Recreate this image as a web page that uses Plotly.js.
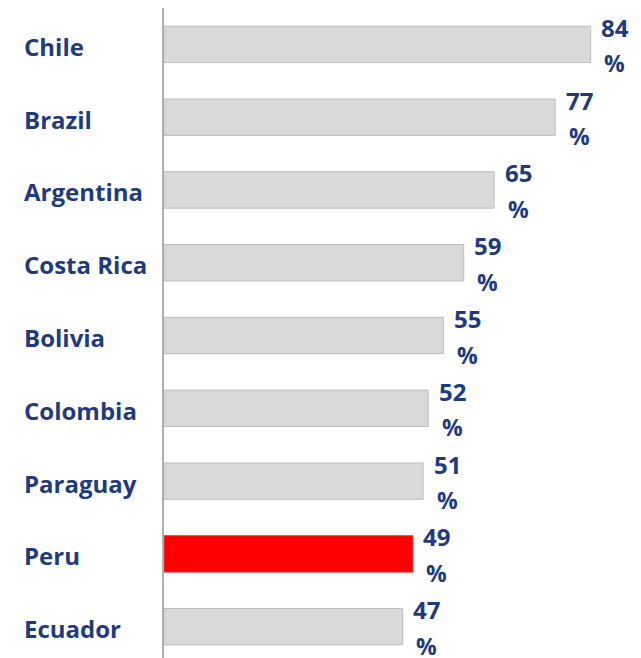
<!DOCTYPE html>
<html>
<head>
<meta charset="utf-8">
<script src="https://cdn.plot.ly/plotly-3.0.1.min.js"></script>
<style>html,body{margin:0;padding:0;background:#fff;}#chart{width:641px;height:658px;}</style>
</head>
<body>
<div id="chart"></div>
<script>
const countries = ['Chile','Brazil','Argentina','Costa Rica','Bolivia','Colombia','Paraguay','Peru','Ecuador'];
const values = [84,77,65,59,55,52,51,49,47];
const highlight = 'Peru';
const unitLabel = '%';

const navy = '#1f3b80';
const barColors = countries.map(c => c === highlight ? '#ff0000' : '#d9d9d9');
const lineColors = countries.map(c => c === highlight ? '#e83030' : '#bdbdbd');

const trace = {
  type: 'bar',
  orientation: 'h',
  x: values,
  y: countries,
  marker: {color: barColors, line: {color: lineColors, width: 1}},
  hoverinfo: 'skip'
};

const annotations = [];
countries.forEach((c, i) => {
  annotations.push({
    x: values[i], y: c, xref: 'x', yref: 'y',
    text: String(values[i]), showarrow: false,
    xanchor: 'center', yanchor: 'middle', xshift: 24, yshift: 17,
    font: {family: 'Open Sans', size: 24, color: navy, weight: 'bold'}
  });
  annotations.push({
    x: values[i], y: c, xref: 'x', yref: 'y',
    text: unitLabel, showarrow: false,
    xanchor: 'center', yanchor: 'middle', xshift: 24, yshift: -19,
    font: {family: 'Open Sans', size: 23, color: navy, weight: 'bold'}
  });
  annotations.push({
    x: -142/477, y: c, xref: 'paper', yref: 'y',
    text: c, showarrow: false,
    xanchor: 'left', yanchor: 'middle', yshift: -2,
    font: {family: 'Open Sans', size: 24, color: navy, weight: 'bold'}
  });
});

const layout = {
  width: 641, height: 658,
  margin: {l: 164, r: 0, t: 8, b: 0},
  paper_bgcolor: '#ffffff', plot_bgcolor: '#ffffff',
  showlegend: false,
  bargap: 0.5,
  xaxis: {range: [0, 93.9], showgrid: false, zeroline: false, showticklabels: false, showline: false, ticks: ''},
  yaxis: {type: 'category', categoryorder: 'array', categoryarray: countries, range: [8.43, -0.5],
          showgrid: false, zeroline: false, showticklabels: false, ticks: '',
          showline: true, linecolor: '#b0b0b0', linewidth: 2},
  annotations: annotations
};

Plotly.newPlot('chart', [trace], layout, {displayModeBar: false, staticPlot: true});
</script>
</body>
</html>
